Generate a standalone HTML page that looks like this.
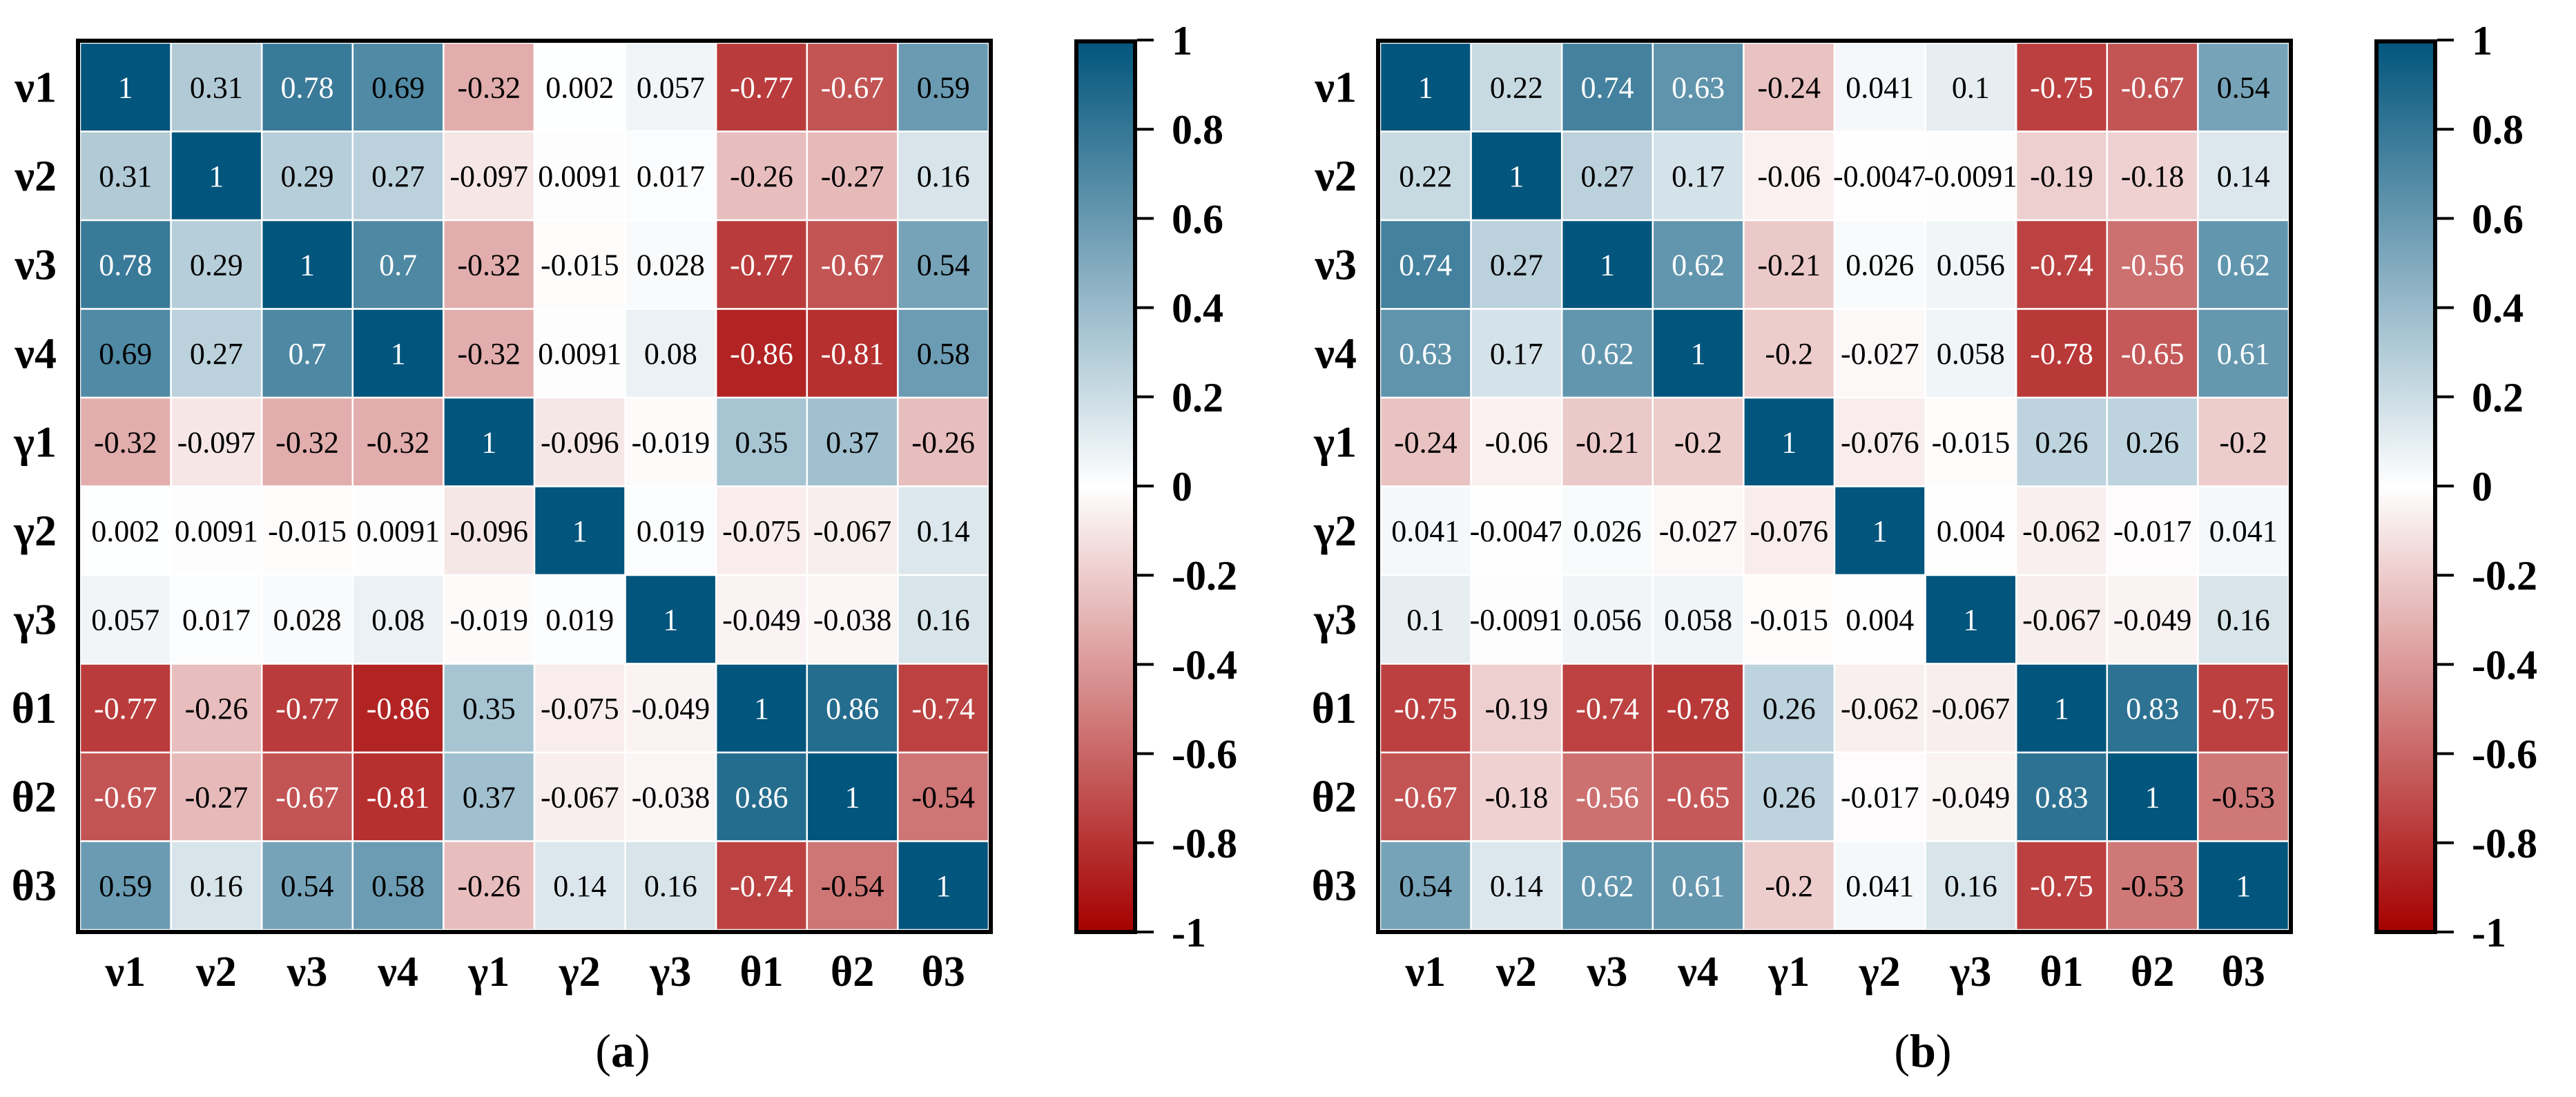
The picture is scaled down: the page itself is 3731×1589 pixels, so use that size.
<!DOCTYPE html>
<html><head><meta charset="utf-8">
<style>
html,body{margin:0;padding:0;background:#fff;}
svg{display:block;font-family:"Liberation Serif","DejaVu Serif",serif;}
</style></head>
<body>
<svg id="fig" width="3731" height="1589" viewBox="0 0 3731 1589" xmlns="http://www.w3.org/2000/svg"></svg>
<script>
const labels = ["ν1","ν2","ν3","ν4","γ1","γ2","γ3","θ1","θ2","θ3"];
const matrixA = [
[1,0.31,0.78,0.69,-0.32,0.002,0.057,-0.77,-0.67,0.59],
[0.31,1,0.29,0.27,-0.097,0.0091,0.017,-0.26,-0.27,0.16],
[0.78,0.29,1,0.7,-0.32,-0.015,0.028,-0.77,-0.67,0.54],
[0.69,0.27,0.7,1,-0.32,0.0091,0.08,-0.86,-0.81,0.58],
[-0.32,-0.097,-0.32,-0.32,1,-0.096,-0.019,0.35,0.37,-0.26],
[0.002,0.0091,-0.015,0.0091,-0.096,1,0.019,-0.075,-0.067,0.14],
[0.057,0.017,0.028,0.08,-0.019,0.019,1,-0.049,-0.038,0.16],
[-0.77,-0.26,-0.77,-0.86,0.35,-0.075,-0.049,1,0.86,-0.74],
[-0.67,-0.27,-0.67,-0.81,0.37,-0.067,-0.038,0.86,1,-0.54],
[0.59,0.16,0.54,0.58,-0.26,0.14,0.16,-0.74,-0.54,1]
];
const matrixB = [
[1,0.22,0.74,0.63,-0.24,0.041,0.1,-0.75,-0.67,0.54],
[0.22,1,0.27,0.17,-0.06,-0.0047,-0.0091,-0.19,-0.18,0.14],
[0.74,0.27,1,0.62,-0.21,0.026,0.056,-0.74,-0.56,0.62],
[0.63,0.17,0.62,1,-0.2,-0.027,0.058,-0.78,-0.65,0.61],
[-0.24,-0.06,-0.21,-0.2,1,-0.076,-0.015,0.26,0.26,-0.2],
[0.041,-0.0047,0.026,-0.027,-0.076,1,0.004,-0.062,-0.017,0.041],
[0.1,-0.0091,0.056,0.058,-0.015,0.004,1,-0.067,-0.049,0.16],
[-0.75,-0.19,-0.74,-0.78,0.26,-0.062,-0.067,1,0.83,-0.75],
[-0.67,-0.18,-0.56,-0.65,0.26,-0.017,-0.049,0.83,1,-0.53],
[0.54,0.14,0.62,0.61,-0.2,0.041,0.16,-0.75,-0.53,1]
];
const tickValues = [1,0.8,0.6,0.4,0.2,0,-0.2,-0.4,-0.6,-0.8,-1];
const tickLabels = ["1","0.8","0.6","0.4","0.2","0","-0.2","-0.4","-0.6","-0.8","-1"];
const panelNames = ["(a)","(b)"];

const NS="http://www.w3.org/2000/svg";
const svg=document.getElementById('fig');
function mk(tag,attrs,parent){const e=document.createElementNS(NS,tag);for(const k in attrs)e.setAttribute(k,attrs[k]);(parent||svg).appendChild(e);return e;}
function color(v){
  const pos=[2,85,124], neg=[165,0,0];
  const t=Math.min(1,Math.abs(v)); const c=v>=0?pos:neg;
  const r=Math.round(255+(c[0]-255)*t),g=Math.round(255+(c[1]-255)*t),b=Math.round(255+(c[2]-255)*t);
  return `rgb(${r},${g},${b})`;
}
function drawPanel(mat,dx,pi,posThr,negThr){
  const g=mk('g',{}); 
  
  
  const x0=116+dx, y0=62, cw=131.6, ch=128.5, n=labels.length;
  const xs=i=>x0+i*cw, ys=j=>y0+j*ch;
  for(let r=0;r<n;r++)for(let c=0;c<n;c++){
    const v=mat[r][c];
    const rect=mk('rect',{x:xs(c),y:ys(r),width:cw,height:ch,fill:color(v),stroke:'#fff','stroke-width':2.5},g);
    
    
    const white=(v>=posThr)||(v<=-negThr);
    const t=mk('text',{x:xs(c)+cw/2,y:ys(r)+ch/2+15,'text-anchor':'middle','font-size':44,fill:white?'#fff':'#000'},g);
    t.textContent=String(v);
    
    
  }
  const border=mk('rect',{x:113+dx,y:59,width:1322,height:1291,fill:'none',stroke:'#000','stroke-width':6},g);
  
  
  for(let i=0;i<n;i++){
    const yl=mk('text',{x:82+dx,y:ys(i)+ch/2+21,'text-anchor':'end','font-size':64,'font-weight':'bold'},g);
    yl.textContent=labels[i];
    
    
    const xl=mk('text',{x:xs(i)+cw/2,y:1428,'text-anchor':'middle','font-size':62,'font-weight':'bold'},g);
    xl.textContent=labels[i];
    
    
  }
  // colorbar
  const cbx=1559+dx, cbTop=60, cbBot=1350;
  const gid='cbgrad'+pi;
  const defs=mk('defs',{},g);
  const lg=mk('linearGradient',{id:gid,x1:0,y1:0,x2:0,y2:1},defs);
  for(let k=0;k<=20;k++){const v=1-k/10;mk('stop',{offset:(k/20),'stop-color':color(v)},lg);}
  const cb=mk('rect',{x:cbx,y:cbTop,width:85,height:cbBot-cbTop,fill:`url(#${gid})`,stroke:'#000','stroke-width':6},g);
  
  
  const ty=v=>58+(1-v)/2*(1350-58);
  tickValues.forEach((v,i)=>{
    const ln=mk('line',{x1:cbx+88,x2:1671+dx,y1:ty(v),y2:ty(v),stroke:'#000','stroke-width':4},g);
    
    
    const tl=mk('text',{x:1697+dx,y:ty(v)+21,'font-size':60,'font-weight':'bold'},g);
    tl.textContent=tickLabels[i];
    
    
  });
  const cap=mk('text',{x:902+dx,y:1545,'text-anchor':'middle','font-size':68},g);
  cap.innerHTML='(<tspan font-weight="bold">'+panelNames[pi].slice(1,2)+'</tspan>)';
  
  
}
drawPanel(matrixA,0,0,0.7,0.6);
drawPanel(matrixB,1883,1,0.6,0.55);
</script>
</body></html>
